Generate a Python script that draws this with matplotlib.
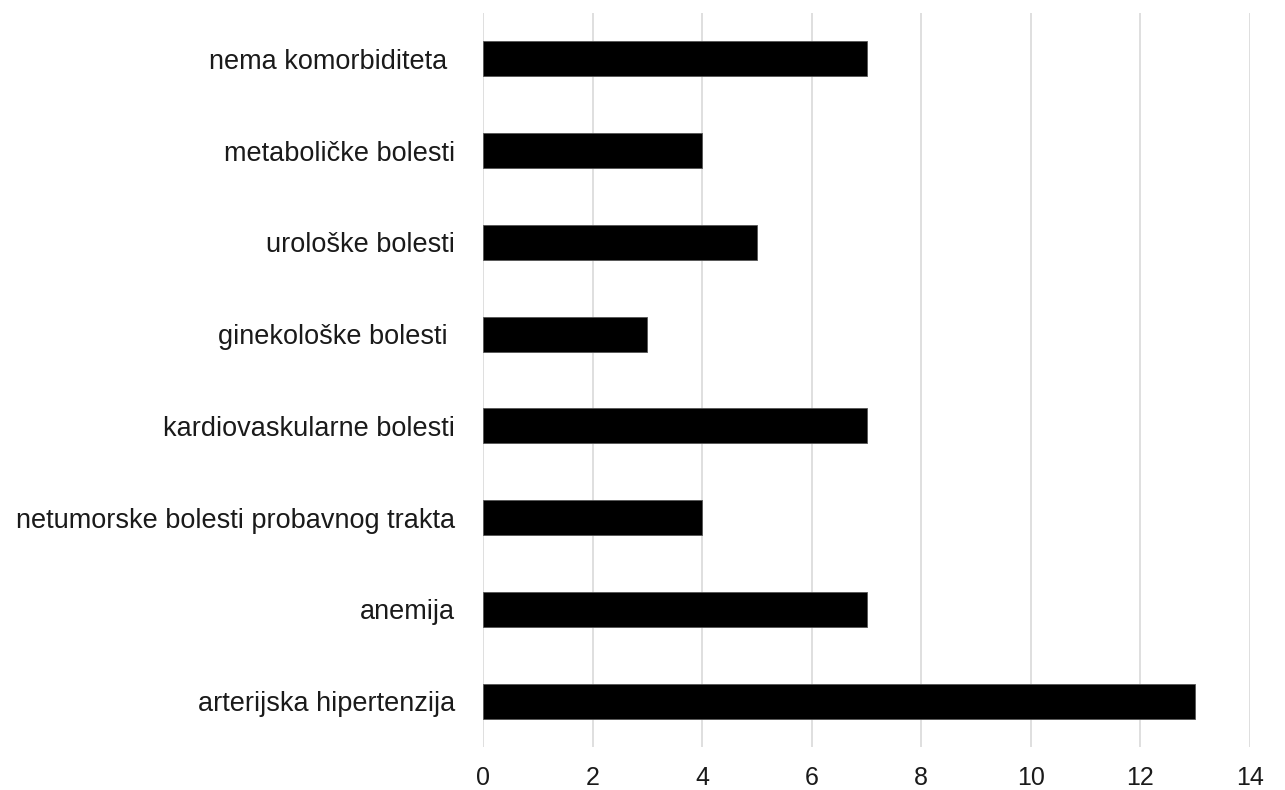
import matplotlib
matplotlib.use("Agg")
import matplotlib.pyplot as plt

# categories, top to bottom as in the chart
categories = ["nema komorbiditeta ", "metaboličke bolesti", "urološke bolesti",
              "ginekološke bolesti ", "kardiovaskularne bolesti",
              "netumorske bolesti probavnog trakta", "anemija",
              "arterijska hipertenzija"]
values = [7, 4, 5, 3, 7, 4, 7, 13]
x_ticks = [0, 2, 4, 6, 8, 10, 12, 14]

plt.rcParams['font.family'] = ['Liberation Sans', 'DejaVu Sans']

fig = plt.figure(figsize=(12.85, 7.9), dpi=100)
ax = fig.add_axes([483/1285, 1 - 747/790, (1250-483)/1285, (747-13)/790])

# reverse so first category ends up at the top
pos = list(range(len(categories)))[::-1]
ax.barh(pos, values, height=0.38, color='black', edgecolor='#555555', linewidth=0.6, zorder=3)

ax.set_xlim(0, 14)
ax.set_ylim(-0.5, len(categories) - 0.5)
ax.set_xticks(x_ticks)
ax.set_xticklabels([str(t) for t in x_ticks])
ax.set_yticks(pos)
ax.set_yticklabels(categories)

ax.grid(axis='x', color='#d9d9d9', linewidth=1.2, zorder=0)
for s in ax.spines.values():
    s.set_visible(False)
ax.tick_params(axis='both', length=0, colors='#1a1a1a')
ax.tick_params(axis='y', labelsize=19.5, pad=20)
ax.tick_params(axis='x', labelsize=18, pad=14)

fig.savefig("out.png", dpi=100)
